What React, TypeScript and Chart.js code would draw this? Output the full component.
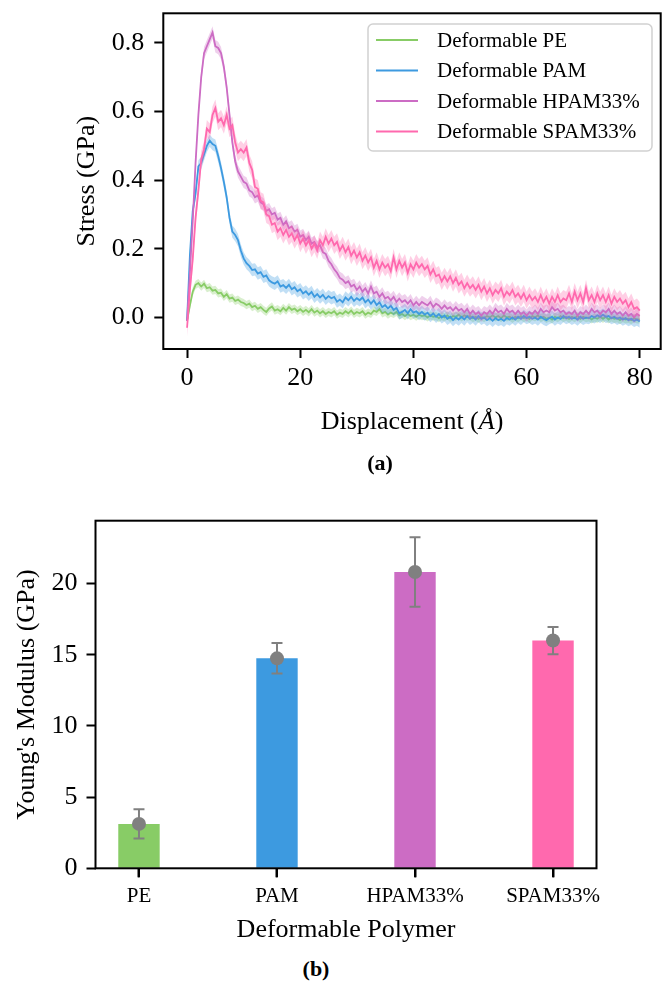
import React, { useEffect, useRef } from "react";
import { Chart, registerables } from "chart.js";

Chart.register(...registerables);

const FONT = "'Liberation Serif', 'Times New Roman', Times, serif";

// ---------- (a) stress vs displacement ----------
const DISPLACEMENT = [
  0, 0.5, 1, 1.5, 2, 2.5, 3, 3.5, 4, 4.5, 5, 5.5, 6, 6.5, 7, 7.5, 8, 8.5, 9, 9.5,
  10, 10.5, 11, 11.5, 12, 12.5, 13, 13.5, 14, 14.5, 15, 15.5, 16, 16.5, 17, 17.5, 18, 18.5, 19, 19.5,
  20, 20.5, 21, 21.5, 22, 22.5, 23, 23.5, 24, 24.5, 25, 25.5, 26, 26.5, 27, 27.5, 28, 28.5, 29, 29.5,
  30, 30.5, 31, 31.5, 32, 32.5, 33, 33.5, 34, 34.5, 35, 35.5, 36, 36.5, 37, 37.5, 38, 38.5, 39, 39.5,
  40, 40.5, 41, 41.5, 42, 42.5, 43, 43.5, 44, 44.5, 45, 45.5, 46, 46.5, 47, 47.5, 48, 48.5, 49, 49.5,
  50, 50.5, 51, 51.5, 52, 52.5, 53, 53.5, 54, 54.5, 55, 55.5, 56, 56.5, 57, 57.5, 58, 58.5, 59, 59.5,
  60, 60.5, 61, 61.5, 62, 62.5, 63, 63.5, 64, 64.5, 65, 65.5, 66, 66.5, 67, 67.5, 68, 68.5, 69, 69.5,
  70, 70.5, 71, 71.5, 72, 72.5, 73, 73.5, 74, 74.5, 75, 75.5, 76, 76.5, 77, 77.5, 78, 78.5, 79, 79.5,
  80,
];

const PE_STRESS = [
  -0.010, 0.035, 0.075, 0.095, 0.100, 0.090, 0.098, 0.085, 0.088, 0.078, 0.080, 0.070, 0.072, 0.060, 0.068, 0.055, 0.058, 0.048, 0.052, 0.045,
  0.042, 0.036, 0.040, 0.030, 0.034, 0.025, 0.030, 0.022, 0.016, 0.026, 0.032, 0.020, 0.024, 0.018, 0.028, 0.020, 0.030, 0.022, 0.026, 0.018,
  0.024, 0.016, 0.022, 0.015, 0.024, 0.014, 0.020, 0.012, 0.018, 0.010, 0.016, 0.012, 0.018, 0.008, 0.014, 0.010, 0.018, 0.012, 0.020, 0.010,
  0.016, 0.012, 0.018, 0.008, 0.014, 0.010, 0.020, 0.016, 0.024, 0.012, 0.016, 0.008, 0.014, 0.010, 0.016, 0.006, 0.010, 0.004, 0.010, 0.004,
  0.008, 0.002, 0.008, 0.004, 0.006, 0.000, 0.006, 0.002, 0.004, -0.002, 0.004, 0.000, 0.006, -0.002, 0.004, 0.002, 0.008, 0.000, 0.006, 0.002,
  0.004, -0.002, 0.002, -0.004, 0.002, -0.002, 0.004, 0.000, 0.006, 0.000, 0.004, -0.002, 0.006, 0.000, 0.002, -0.004, 0.002, -0.002, 0.004, -0.002,
  0.002, -0.004, 0.004, 0.000, 0.006, -0.002, 0.002, -0.004, 0.000, -0.006, 0.002, -0.002, 0.004, -0.002, 0.002, -0.004, 0.002, -0.002, 0.004, -0.004,
  0.002, -0.002, 0.000, -0.006, 0.000, -0.004, 0.002, -0.004, 0.002, -0.006, 0.000, -0.004, -0.002, -0.008, -0.002, -0.006, -0.004, -0.008, -0.002, -0.006,
  -0.006,
];

const PAM_STRESS = [
  -0.010, 0.180, 0.310, 0.360, 0.440, 0.450, 0.475, 0.500, 0.515, 0.505, 0.500, 0.470, 0.435, 0.395, 0.350, 0.290, 0.250, 0.240, 0.225, 0.195,
  0.172, 0.158, 0.150, 0.138, 0.140, 0.128, 0.132, 0.118, 0.122, 0.108, 0.102, 0.098, 0.105, 0.090, 0.094, 0.086, 0.095, 0.082, 0.088, 0.076,
  0.082, 0.070, 0.076, 0.066, 0.074, 0.060, 0.068, 0.058, 0.066, 0.054, 0.062, 0.056, 0.060, 0.046, 0.052, 0.044, 0.058, 0.050, 0.060, 0.048,
  0.056, 0.050, 0.058, 0.044, 0.052, 0.040, 0.050, 0.036, 0.044, 0.030, 0.036, 0.026, 0.034, 0.022, 0.028, 0.012, 0.016, 0.022, 0.012, 0.024,
  0.014, 0.018, 0.010, 0.016, 0.008, 0.014, 0.004, 0.012, 0.002, 0.010, 0.000, 0.006, -0.004, 0.002, -0.008, 0.000, -0.006, 0.002, -0.006, 0.004,
  -0.004, 0.002, -0.006, 0.004, -0.004, 0.000, -0.008, -0.002, -0.010, -0.002, -0.008, -0.004, -0.010, -0.002, -0.006, 0.000, -0.006, 0.002, -0.004, 0.004,
  -0.002, 0.002, -0.004, 0.000, -0.006, 0.002, -0.004, -0.008, -0.002, 0.002, -0.006, 0.000, -0.004, 0.004, -0.002, 0.002, -0.004, 0.000, -0.006, 0.002,
  -0.004, 0.000, -0.002, 0.004, 0.000, 0.006, 0.002, 0.008, 0.002, 0.004, -0.002, 0.002, -0.004, 0.000, -0.006, -0.002, -0.008, -0.004, -0.010, -0.006,
  -0.012,
];

const HPAM_STRESS = [
  -0.010, 0.130, 0.280, 0.450, 0.590, 0.700, 0.770, 0.790, 0.810, 0.830, 0.790, 0.785, 0.770, 0.730, 0.670, 0.590, 0.510, 0.455, 0.425, 0.410,
  0.395, 0.390, 0.370, 0.365, 0.350, 0.355, 0.335, 0.330, 0.310, 0.315, 0.300, 0.305, 0.285, 0.290, 0.270, 0.280, 0.260, 0.265, 0.250, 0.255,
  0.235, 0.240, 0.225, 0.235, 0.215, 0.220, 0.205, 0.210, 0.190, 0.185, 0.165, 0.155, 0.140, 0.130, 0.115, 0.110, 0.100, 0.105, 0.090, 0.095,
  0.080, 0.090, 0.075, 0.085, 0.070, 0.090, 0.070, 0.075, 0.060, 0.070, 0.055, 0.060, 0.050, 0.060, 0.045, 0.055, 0.045, 0.050, 0.040, 0.050,
  0.035, 0.045, 0.035, 0.045, 0.040, 0.035, 0.045, 0.030, 0.040, 0.035, 0.025, 0.035, 0.025, 0.030, 0.020, 0.030, 0.020, 0.025, 0.015, 0.025,
  0.010, 0.020, 0.010, 0.015, 0.005, 0.015, 0.010, 0.020, 0.010, 0.025, 0.015, 0.020, 0.010, 0.025, 0.015, 0.020, 0.010, 0.020, 0.010, 0.015,
  0.005, 0.015, 0.010, 0.020, 0.010, 0.025, 0.015, 0.020, 0.015, 0.030, 0.020, 0.025, 0.015, 0.020, 0.010, 0.015, 0.010, 0.020, 0.005, 0.015,
  0.010, 0.020, 0.010, 0.025, 0.015, 0.020, 0.010, 0.020, 0.015, 0.025, 0.010, 0.020, 0.010, 0.015, 0.005, 0.015, 0.005, 0.010, 0.000, 0.010,
  0.005,
];

const SPAM_STRESS = [
  -0.030, 0.080, 0.170, 0.290, 0.370, 0.460, 0.490, 0.550, 0.540, 0.590, 0.610, 0.570, 0.580, 0.560, 0.590, 0.550, 0.560, 0.510, 0.480, 0.490,
  0.480, 0.495, 0.450, 0.430, 0.380, 0.375, 0.340, 0.335, 0.300, 0.295, 0.270, 0.275, 0.250, 0.260, 0.240, 0.255, 0.235, 0.245, 0.225, 0.240,
  0.215, 0.230, 0.210, 0.225, 0.200, 0.215, 0.195, 0.225, 0.210, 0.235, 0.215, 0.230, 0.210, 0.220, 0.195, 0.210, 0.190, 0.205, 0.180, 0.195,
  0.175, 0.190, 0.165, 0.180, 0.160, 0.175, 0.145, 0.165, 0.140, 0.160, 0.145, 0.155, 0.135, 0.175, 0.140, 0.165, 0.145, 0.160, 0.130, 0.155,
  0.140, 0.160, 0.145, 0.155, 0.140, 0.150, 0.125, 0.140, 0.120, 0.125, 0.105, 0.120, 0.105, 0.120, 0.100, 0.115, 0.095, 0.105, 0.085, 0.100,
  0.085, 0.095, 0.080, 0.095, 0.075, 0.090, 0.070, 0.085, 0.065, 0.080, 0.070, 0.085, 0.060, 0.075, 0.065, 0.080, 0.060, 0.070, 0.055, 0.070,
  0.050, 0.065, 0.050, 0.060, 0.045, 0.065, 0.045, 0.060, 0.040, 0.060, 0.045, 0.065, 0.045, 0.055, 0.050, 0.070, 0.045, 0.075, 0.050, 0.070,
  0.045, 0.085, 0.050, 0.065, 0.045, 0.070, 0.050, 0.065, 0.045, 0.065, 0.040, 0.060, 0.045, 0.055, 0.040, 0.050, 0.030, 0.045, 0.025, 0.030,
  0.020,
];

const SERIES_NAMES = ["Deformable PE", "Deformable PAM", "Deformable HPAM33%", "Deformable SPAM33%"];
const SERIES_COLORS = ["#88cc66", "#3d9ae0", "#cc6cc4", "#ff69ae"];
const BAND_HALF_WIDTH = [0.012, 0.018, 0.018, 0.025];
const STRESS_TICKS = [0, 0.2, 0.4, 0.6, 0.8];
const DISP_TICKS = [0, 20, 40, 60, 80];

// ---------- (b) Young's modulus ----------
const POLYMERS = ["PE", "PAM", "HPAM33%", "SPAM33%"];
const MODULUS = [3.12, 14.75, 20.82, 16.0];
const MODULUS_SD = [1.02, 1.07, 2.44, 0.96];
const MODULUS_TICKS = [0, 5, 10, 15, 20];

function hexToRgba(hex: string, a: number) {
  const n = parseInt(hex.slice(1), 16);
  return `rgba(${(n >> 16) & 255},${(n >> 8) & 255},${n & 255},${a})`;
}

const frameBox = {
  id: "frameBox",
  afterDatasetsDraw(chart: any) {
    const { ctx, chartArea: a } = chart;
    ctx.save();
    ctx.strokeStyle = "#000";
    ctx.lineWidth = 2;
    ctx.strokeRect(a.left, a.top, a.right - a.left, a.bottom - a.top);
    ctx.restore();
  },
};

// frame + tick marks under each category of the bar chart
const barFrame = {
  id: "barFrame",
  afterDatasetsDraw(chart: any) {
    const { ctx, chartArea: a } = chart;
    const xs = chart.scales.x;
    ctx.save();
    ctx.strokeStyle = "#000";
    ctx.lineWidth = 2;
    ctx.strokeRect(a.left, a.top, a.right - a.left, a.bottom - a.top);
    ctx.beginPath();
    POLYMERS.forEach((_, i) => {
      const px = Math.round(xs.getPixelForValue(i));
      ctx.moveTo(px, a.bottom);
      ctx.lineTo(px, a.bottom + 9);
    });
    ctx.stroke();
    ctx.restore();
  },
};

const stressLegend = {
  id: "stressLegend",
  afterDraw(chart: any) {
    const { ctx, chartArea: a } = chart;
    const w = 284;
    const h = 127;
    const x0 = a.right - 8.7 - w;
    const y0 = a.top + 10.7;
    ctx.save();
    ctx.beginPath();
    if (ctx.roundRect) ctx.roundRect(x0, y0, w, h, 5);
    else ctx.rect(x0, y0, w, h);
    ctx.fillStyle = "rgba(255,255,255,0.8)";
    ctx.fill();
    ctx.strokeStyle = "rgba(204,204,204,0.9)";
    ctx.lineWidth = 1.5;
    ctx.stroke();
    ctx.font = `21px ${FONT}`;
    ctx.textBaseline = "middle";
    ctx.textAlign = "left";
    SERIES_NAMES.forEach((name, i) => {
      const cy = y0 + 16 + i * 30.5;
      ctx.strokeStyle = SERIES_COLORS[i];
      ctx.lineWidth = 2;
      ctx.beginPath();
      ctx.moveTo(x0 + 8, cy);
      ctx.lineTo(x0 + 50, cy);
      ctx.stroke();
      ctx.fillStyle = "#000";
      ctx.fillText(name, x0 + 69, cy + 1);
    });
    ctx.restore();
  },
};

const errorBars = {
  id: "errorBars",
  afterDatasetDraw(chart: any, args: any) {
    if (args.index !== 0) return;
    const { ctx } = chart;
    const xs = chart.scales.x;
    const ys = chart.scales.y;
    ctx.save();
    ctx.strokeStyle = "#808080";
    ctx.lineWidth = 2;
    MODULUS.forEach((m, i) => {
      const px = xs.getPixelForValue(i);
      const top = ys.getPixelForValue(m + MODULUS_SD[i]);
      const bot = ys.getPixelForValue(m - MODULUS_SD[i]);
      ctx.beginPath();
      ctx.moveTo(px, top);
      ctx.lineTo(px, bot);
      ctx.moveTo(px - 5.5, top);
      ctx.lineTo(px + 5.5, top);
      ctx.moveTo(px - 5.5, bot);
      ctx.lineTo(px + 5.5, bot);
      ctx.stroke();
    });
    ctx.restore();
  },
};

function StressChart() {
  const ref = useRef<HTMLCanvasElement>(null);
  useEffect(() => {
    if (!ref.current) return;
    const series = [PE_STRESS, PAM_STRESS, HPAM_STRESS, SPAM_STRESS];
    const datasets: any[] = [];
    series.forEach((vals, s) => {
      const hw = BAND_HALF_WIDTH[s];
      const baseOrder = (series.length - s) * 3;
      datasets.push({
        label: SERIES_NAMES[s] + " upper",
        data: DISPLACEMENT.map((x, i) => ({ x, y: vals[i] + hw })),
        borderWidth: 0,
        pointRadius: 0,
        fill: "+1",
        backgroundColor: hexToRgba(SERIES_COLORS[s], 0.32),
        borderColor: "rgba(0,0,0,0)",
        order: baseOrder + 2,
      });
      datasets.push({
        label: SERIES_NAMES[s] + " lower",
        data: DISPLACEMENT.map((x, i) => ({ x, y: vals[i] - hw })),
        borderWidth: 0,
        pointRadius: 0,
        fill: false,
        borderColor: "rgba(0,0,0,0)",
        order: baseOrder + 2,
      });
      datasets.push({
        label: SERIES_NAMES[s],
        data: DISPLACEMENT.map((x, i) => ({ x, y: vals[i] })),
        borderWidth: 1.8,
        borderColor: SERIES_COLORS[s],
        pointRadius: 0,
        fill: false,
        order: baseOrder,
      });
    });
    const chart = new Chart(ref.current, {
      type: "line",
      data: { datasets },
      options: {
        animation: false,
        responsive: false,
        devicePixelRatio: 1,
        layout: { padding: { top: 13.3, right: 2.3, left: 0, bottom: 0 } },
        plugins: { legend: { display: false }, tooltip: { enabled: false } },
        scales: {
          x: {
            type: "linear",
            min: -4.2,
            max: 83.7,
            afterFit: (s: any) => {
              s.height = 440 - 349;
              s.paddingLeft = 0;
              s.paddingRight = 0;
            },
            afterBuildTicks: (s: any) => {
              s.ticks = DISP_TICKS.map((v) => ({ value: v }));
            },
            ticks: {
              font: { family: FONT, size: 26 },
              color: "#000",
              padding: 5,
              maxRotation: 0,
              minRotation: 0,
              autoSkip: false,
              callback: (v: any) => String(v),
            },
            grid: { offset: false, drawOnChartArea: false, drawTicks: true, tickLength: 9, tickWidth: 2, tickColor: "#000" },
            border: { display: false },
          },
          y: {
            type: "linear",
            min: -0.092,
            max: 0.886,
            afterFit: (s: any) => {
              s.width = 163.3;
              s.paddingTop = 0;
              s.paddingBottom = 0;
            },
            afterBuildTicks: (s: any) => {
              s.ticks = STRESS_TICKS.map((v) => ({ value: v }));
            },
            ticks: {
              font: { family: FONT, size: 26 },
              color: "#000",
              padding: 10,
              autoSkip: false,
              callback: (v: any) => Number(v).toFixed(1),
            },
            grid: { drawOnChartArea: false, drawTicks: true, tickLength: 9, tickWidth: 2, tickColor: "#000" },
            border: { display: false },
            title: {
              display: true,
              text: "Stress (GPa)",
              font: { family: FONT, size: 26 },
              color: "#000",
              padding: { top: 72, bottom: 0 },
            },
          },
        },
      } as any,
      plugins: [frameBox, stressLegend],
    });
    return () => chart.destroy();
  }, []);
  return (
    <canvas
      ref={ref}
      width={663}
      height={440}
      style={{ position: "absolute", left: 0, top: 0, width: 663, height: 440 }}
    />
  );
}

function ModulusChart() {
  const ref = useRef<HTMLCanvasElement>(null);
  useEffect(() => {
    if (!ref.current) return;
    const chart = new Chart(ref.current, {
      type: "bar",
      data: {
        datasets: [
          {
            type: "bar",
            label: "Young's Modulus",
            data: POLYMERS.map((_, i) => ({ x: i, y: MODULUS[i] })),
            backgroundColor: SERIES_COLORS,
            barPercentage: 0.3,
            categoryPercentage: 1,
            order: 2,
          },
          {
            type: "scatter",
            label: "mean",
            data: POLYMERS.map((_, i) => ({ x: i, y: MODULUS[i] })),
            pointRadius: 7,
            pointBackgroundColor: "#808080",
            pointBorderWidth: 0,
            order: 1,
          },
        ] as any,
      },
      options: {
        animation: false,
        responsive: false,
        devicePixelRatio: 1,
        layout: { padding: { top: 20.7, right: 66.5, left: 0, bottom: 0 } },
        plugins: { legend: { display: false }, tooltip: { enabled: false } },
        scales: {
          x: {
            type: "linear",
            offset: false,
            min: -0.315,
            max: 3.315,
            afterFit: (s: any) => {
              s.height = 450 - 368.3;
              s.paddingLeft = 0;
              s.paddingRight = 0;
            },
            afterBuildTicks: (s: any) => {
              s.ticks = POLYMERS.map((_, i) => ({ value: i }));
            },
            ticks: {
              font: { family: FONT, size: 21 },
              color: "#000",
              padding: 7,
              maxRotation: 0,
              minRotation: 0,
              autoSkip: false,
              callback: (v: any) => POLYMERS[Math.round(Number(v))] ?? "",
            },
            grid: { display: true, offset: false, drawOnChartArea: false, drawTicks: true, tickLength: 9, tickWidth: 2, tickColor: "#000" },
            border: { display: false },
            title: {
              display: true,
              text: "Deformable Polymer",
              font: { family: FONT, size: 26 },
              color: "#000",
              padding: { top: 0, bottom: 4.4 },
            },
          },
          y: {
            type: "linear",
            min: 0,
            max: 24.42,
            afterFit: (s: any) => {
              s.width = 95.5;
              s.paddingTop = 0;
              s.paddingBottom = 0;
            },
            afterBuildTicks: (s: any) => {
              s.ticks = MODULUS_TICKS.map((v) => ({ value: v }));
            },
            ticks: {
              font: { family: FONT, size: 26 },
              color: "#000",
              padding: 9,
              autoSkip: false,
              callback: (v: any) => String(v),
            },
            grid: { drawOnChartArea: false, drawTicks: true, tickLength: 9, tickWidth: 2, tickColor: "#000" },
            border: { display: false },
            title: {
              display: true,
              text: "Young's Modulus (GPa)",
              font: { family: FONT, size: 26 },
              color: "#000",
              padding: { top: 11.4, bottom: 0 },
            },
          },
        },
      } as any,
      plugins: [errorBars, barFrame],
    });
    return () => chart.destroy();
  }, []);
  return (
    <canvas
      ref={ref}
      width={663}
      height={450}
      style={{ position: "absolute", left: 0, top: 500, width: 663, height: 450 }}
    />
  );
}

export default function App() {
  const label: React.CSSProperties = {
    position: "absolute",
    transform: "translate(-50%, -50%)",
    whiteSpace: "nowrap",
    fontFamily: FONT,
    lineHeight: 1,
    color: "#000",
  };
  return (
    <div style={{ position: "absolute", left: 0, top: 0, width: 663, height: 981, background: "#fff", overflow: "hidden" }}>
      <StressChart />
      <div style={{ ...label, left: 412, top: 421, fontSize: 26 }}>
        Displacement (<i>Å</i>)
      </div>
      <div style={{ ...label, left: 380, top: 463, fontSize: 22, fontWeight: "bold" }}>(a)</div>
      <ModulusChart />
      <div style={{ ...label, left: 316, top: 969, fontSize: 22, fontWeight: "bold" }}>(b)</div>
    </div>
  );
}
